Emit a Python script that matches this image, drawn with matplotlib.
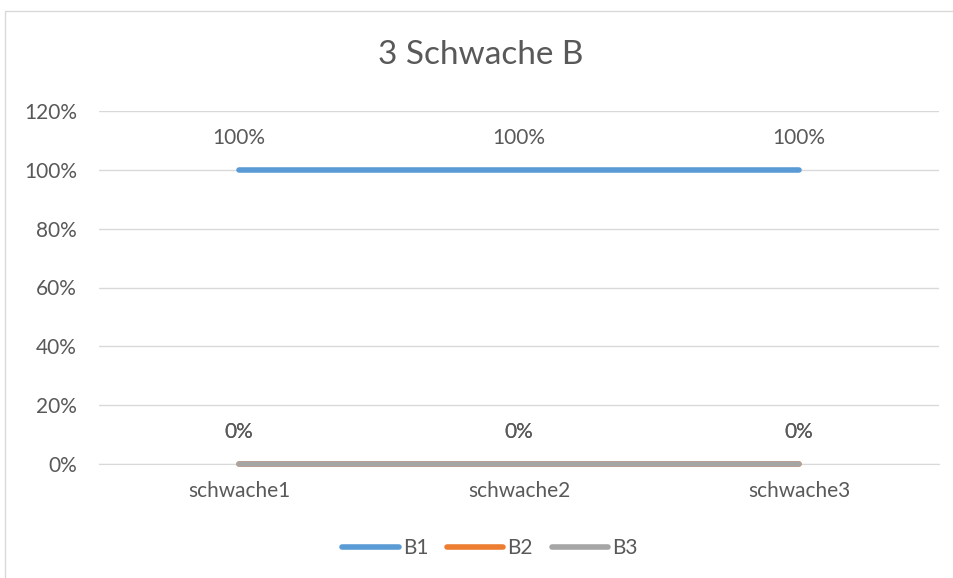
import matplotlib.pyplot as plt
from matplotlib.patches import Rectangle
from matplotlib.ticker import PercentFormatter

plt.rcParams["font.family"] = ["Lato", "DejaVu Sans"]

# data
categories = ["schwache1", "schwache2", "schwache3"]
series_names = ["B1", "B2", "B3"]
b1 = [1.0, 1.0, 1.0]
b2 = [0.0, 0.0, 0.0]
b3 = [0.0, 0.0, 0.0]
colors = ["#5B9BD5", "#ED7D31", "#A5A5A5"]
text_color = "#595959"

fig = plt.figure(figsize=(9.54, 5.78), dpi=100)
# chart frame (cut off on the right and bottom in the original)
fig.patches.append(Rectangle((5 / 954, -0.1), 1.2, 1 - 11 / 578 + 0.1,
                             transform=fig.transFigure, fill=False,
                             edgecolor="#D9D9D9", linewidth=1.0))

ax = fig.add_axes([99 / 954, 1 - 464 / 578, 840 / 954, 353 / 578])

x = range(len(categories))
for name, vals, c in zip(series_names, [b1, b2, b3], colors):
    ax.plot(x, vals, color=c, linewidth=4, solid_capstyle="round", label=name,
            zorder=3, clip_on=False)
    for xi, v in zip(x, vals):
        ax.annotate(f"{v:.0%}", (xi, v), xytext=(0, 23), textcoords="offset points",
                    ha="center", va="center", fontsize=15, color=text_color)

ax.set_xlim(-0.5, len(categories) - 0.5)
ax.set_ylim(0, 1.2)
ax.set_yticks([0, 0.2, 0.4, 0.6, 0.8, 1.0, 1.2])
ax.yaxis.set_major_formatter(PercentFormatter(1.0, decimals=0))
ax.set_xticks(list(x))
ax.set_xticklabels(categories)
ax.tick_params(axis="both", length=0, labelsize=15, labelcolor=text_color)
ax.tick_params(axis="y", pad=16)
ax.tick_params(axis="x", pad=12)
ax.grid(axis="y", color="#D9D9D9", linewidth=1.0)
ax.set_axisbelow(True)
for s in ["top", "right", "left"]:
    ax.spines[s].set_visible(False)
ax.spines["bottom"].set_color("#D9D9D9")

fig.text(481 / 954, 1 - 55 / 578, "3 Schwache B", ha="center", va="center",
         fontsize=24, color=text_color)

fig.legend(loc="center", bbox_to_anchor=(490 / 954, 1 - 548 / 578), ncol=3,
           frameon=False, fontsize=15, labelcolor=text_color, handlelength=2.7,
           handletextpad=0.2, columnspacing=0.9)

fig.savefig("out.png", dpi=100)
